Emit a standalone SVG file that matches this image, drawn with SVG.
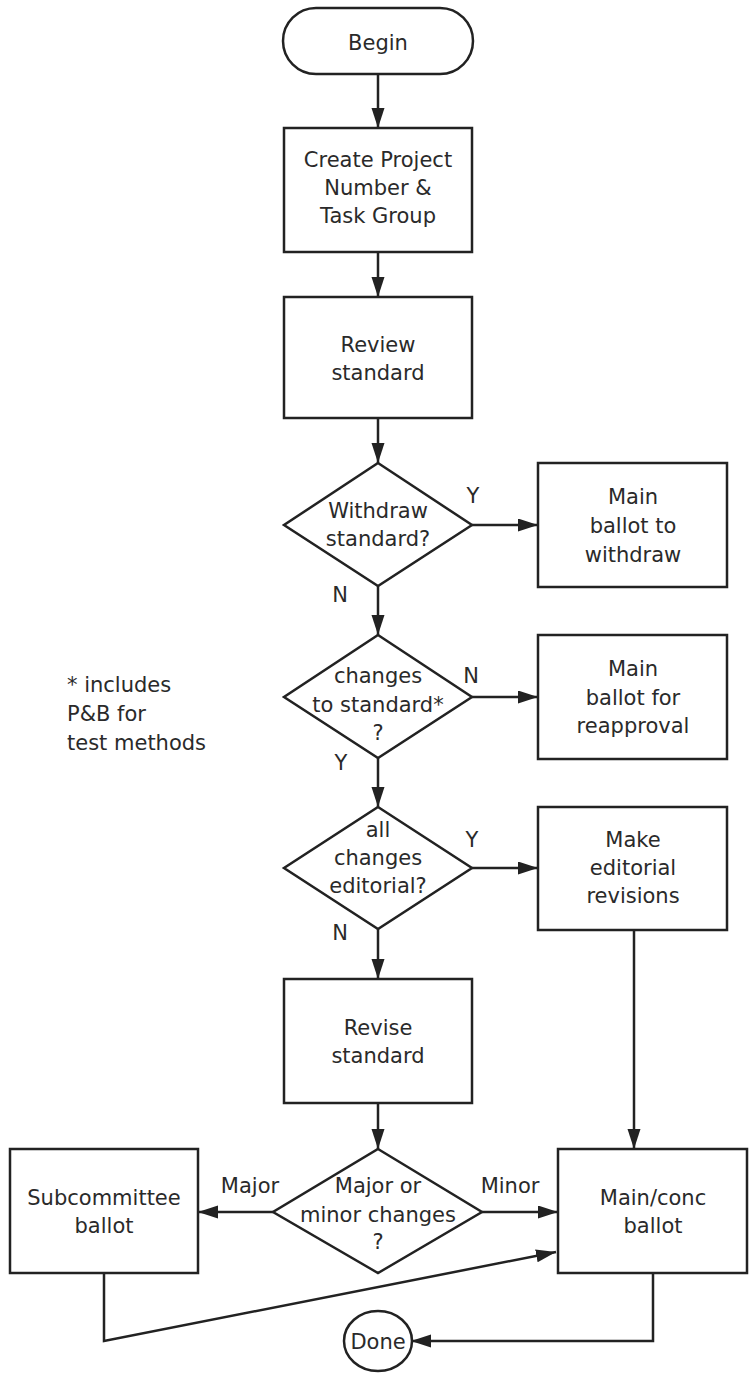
<svg xmlns="http://www.w3.org/2000/svg" width="749" height="1374" viewBox="0 0 749 1374">
<style>
.s{fill:#fff;stroke:#222;stroke-width:2.5}
.t{font-family:"DejaVu Sans","Verdana",sans-serif;font-size:21px;fill:#2a2a2a;text-anchor:middle}
.l{font-family:"DejaVu Sans","Verdana",sans-serif;font-size:21px;fill:#2a2a2a}
.c{fill:none;stroke:#222;stroke-width:2.5}
</style>
<defs>
<marker id="ah" markerUnits="userSpaceOnUse" markerWidth="22" markerHeight="14" refX="20" refY="6.5" orient="auto">
<path d="M0,0 L20,6.5 L0,13 z" fill="#222"/>
</marker>
</defs>
<rect width="749" height="1374" fill="#fff"/>
<g id="connectors">
<line class="c" x1="378" y1="74" x2="378" y2="128" marker-end="url(#ah)"/>
<line class="c" x1="378" y1="252" x2="378" y2="297" marker-end="url(#ah)"/>
<line class="c" x1="378" y1="418" x2="378" y2="463" marker-end="url(#ah)"/>
<line class="c" x1="472" y1="525" x2="538" y2="525" marker-end="url(#ah)"/>
<line class="c" x1="378" y1="586" x2="378" y2="635" marker-end="url(#ah)"/>
<line class="c" x1="472" y1="697" x2="538" y2="697" marker-end="url(#ah)"/>
<line class="c" x1="378" y1="758" x2="378" y2="807" marker-end="url(#ah)"/>
<line class="c" x1="472" y1="868" x2="538" y2="868" marker-end="url(#ah)"/>
<line class="c" x1="378" y1="929" x2="378" y2="979" marker-end="url(#ah)"/>
<line class="c" x1="634" y1="930" x2="634" y2="1149" marker-end="url(#ah)"/>
<line class="c" x1="378" y1="1103" x2="378" y2="1149" marker-end="url(#ah)"/>
<line class="c" x1="273" y1="1212" x2="198" y2="1212" marker-end="url(#ah)"/>
<line class="c" x1="482" y1="1212" x2="558" y2="1212" marker-end="url(#ah)"/>
<polyline class="c" points="104,1273 104,1341 556,1252" marker-end="url(#ah)"/>
<polyline class="c" points="653,1273 653,1341 411,1341" marker-end="url(#ah)"/>
<text class="l" x="473" y="503" text-anchor="middle">Y</text>
<text class="l" x="340" y="602" text-anchor="middle">N</text>
<text class="l" x="471" y="683" text-anchor="middle">N</text>
<text class="l" x="341" y="770" text-anchor="middle">Y</text>
<text class="l" x="472" y="847" text-anchor="middle">Y</text>
<text class="l" x="340" y="940" text-anchor="middle">N</text>
<text class="l" x="250" y="1193" text-anchor="middle">Major</text>
<text class="l" x="510" y="1193" text-anchor="middle">Minor</text>
</g>
<g id="begin">
<rect class="s" x="283" y="8" width="190" height="66" rx="33"/>
<text class="t" x="378" y="50">Begin</text>
</g>
<g id="create">
<rect class="s" x="284" y="128" width="188" height="124"/>
<text class="t" x="378" y="167">Create Project</text>
<text class="t" x="378" y="195">Number &amp;</text>
<text class="t" x="378" y="223">Task Group</text>
</g>
<g id="review">
<rect class="s" x="284" y="297" width="188" height="121"/>
<text class="t" x="378" y="352">Review</text>
<text class="t" x="378" y="380">standard</text>
</g>
<g id="withdraw-q">
<polygon class="s" points="378,463 472,525 378,586 284,525"/>
<text class="t" x="378" y="518">Withdraw</text>
<text class="t" x="378" y="546">standard?</text>
</g>
<g id="withdraw-ballot">
<rect class="s" x="538" y="463" width="189" height="124"/>
<text class="t" x="633" y="504">Main</text>
<text class="t" x="633" y="533">ballot to</text>
<text class="t" x="633" y="562">withdraw</text>
</g>
<g id="changes-q">
<polygon class="s" points="378,635 472,697 378,758 284,697"/>
<text class="t" x="378" y="683">changes</text>
<text class="t" x="378" y="712">to standard*</text>
<text class="t" x="378" y="740">?</text>
</g>
<g id="note">
<text class="l" x="67" y="692">* includes</text>
<text class="l" x="67" y="721">P&amp;B for</text>
<text class="l" x="67" y="750">test methods</text>
</g>
<g id="reapproval">
<rect class="s" x="538" y="635" width="189" height="124"/>
<text class="t" x="633" y="676">Main</text>
<text class="t" x="633" y="705">ballot for</text>
<text class="t" x="633" y="733">reapproval</text>
</g>
<g id="editorial-q">
<polygon class="s" points="378,807 472,868 378,929 284,868"/>
<text class="t" x="378" y="837">all</text>
<text class="t" x="378" y="865">changes</text>
<text class="t" x="378" y="893">editorial?</text>
</g>
<g id="editorial-rev">
<rect class="s" x="538" y="807" width="189" height="123"/>
<text class="t" x="633" y="847">Make</text>
<text class="t" x="633" y="875">editorial</text>
<text class="t" x="633" y="903">revisions</text>
</g>
<g id="revise">
<rect class="s" x="284" y="979" width="188" height="124"/>
<text class="t" x="378" y="1035">Revise</text>
<text class="t" x="378" y="1063">standard</text>
</g>
<g id="major-minor-q">
<polygon class="s" points="378,1149 482,1212 378,1273 273,1212"/>
<text class="t" x="378" y="1193">Major or</text>
<text class="t" x="378" y="1222">minor changes</text>
<text class="t" x="378" y="1249">?</text>
</g>
<g id="subcommittee">
<rect class="s" x="10" y="1149" width="188" height="124"/>
<text class="t" x="104" y="1205">Subcommittee</text>
<text class="t" x="104" y="1233">ballot</text>
</g>
<g id="mainconc">
<rect class="s" x="558" y="1149" width="189" height="124"/>
<text class="t" x="653" y="1205">Main/conc</text>
<text class="t" x="653" y="1233">ballot</text>
</g>
<g id="done">
<ellipse class="s" cx="378" cy="1341" rx="34" ry="30"/>
<text class="t" x="378" y="1349">Done</text>
</g>
</svg>
